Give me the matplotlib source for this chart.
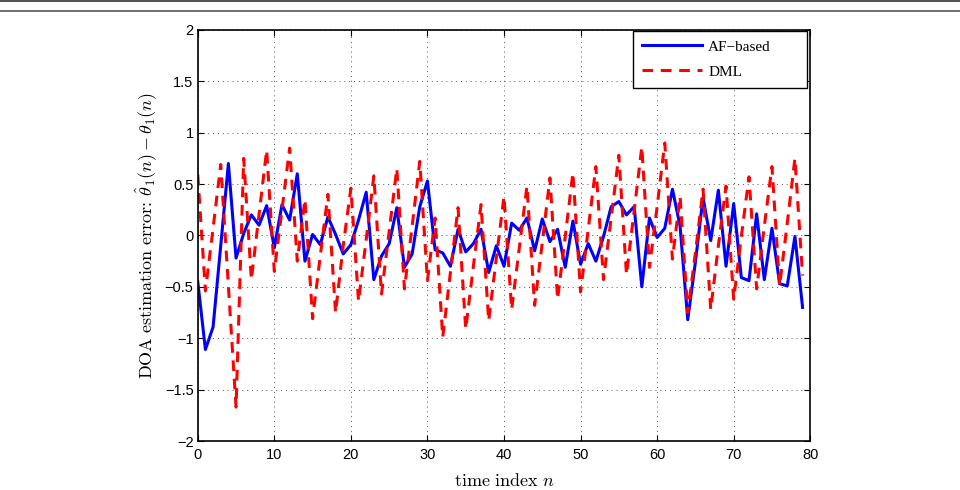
import numpy as np
import matplotlib
matplotlib.use('Agg')
import matplotlib.pyplot as plt
from matplotlib.lines import Line2D

plt.rcParams['mathtext.fontset'] = 'cm'

#time index
n = np.arange(0, 80)

#AF-based estimation error
af_err = [-0.45, -1.11, -0.89, -0.10, 0.70, -0.22, 0.02, 0.20, 0.10, 0.29,
          -0.12, 0.30, 0.15, 0.60, -0.25, 0.01, -0.09, 0.18, 0.01, -0.18,
          -0.09, 0.15, 0.42, -0.43, -0.20, -0.08, 0.27, -0.31, -0.18, 0.28,
          0.53, -0.14, -0.17, -0.30, 0.06, -0.16, -0.08, 0.06, -0.36, -0.10,
          -0.30, 0.12, 0.05, 0.17, -0.15, 0.16, -0.06, 0.06, -0.31, 0.14,
          -0.28, -0.08, -0.25, -0.01, 0.28, 0.33, 0.20, 0.28, -0.50, 0.17,
          -0.02, 0.07, 0.45, 0.09, -0.82, -0.26, 0.37, -0.05, 0.44, -0.30,
          0.31, -0.41, -0.44, 0.21, -0.43, 0.07, -0.47, -0.49, -0.01, -0.70]

#DML estimation error
dml_err = [0.59, -0.54, 0.07, 0.69, -0.49, -1.67, 0.75, -0.43, 0.20, 0.83,
           -0.35, 0.25, 0.85, -0.25, 0.35, -0.81, -0.20, 0.40, -0.75, -0.10,
           0.46, -0.64, -0.04, 0.58, -0.57, 0.04, 0.65, -0.52, 0.09, 0.72,
           -0.44, 0.17, -0.99, -0.36, 0.27, -0.91, -0.30, 0.30, -0.83, -0.22,
           0.38, -0.72, -0.12, 0.48, -0.68, -0.07, 0.56, -0.62, -0.01, 0.61,
           -0.55, 0.06, 0.67, -0.43, 0.17, 0.78, -0.38, 0.24, 0.86, -0.31,
           0.28, 0.90, -0.23, 0.38, -0.75, -0.17, 0.45, -0.72, -0.10, 0.48,
           -0.62, -0.01, 0.57, -0.52, 0.09, 0.67, -0.49, 0.12, 0.75, -0.39]

xticks = [0, 10, 20, 30, 40, 50, 60, 70, 80]
yticks = [-2, -1.5, -1, -0.5, 0, 0.5, 1, 1.5, 2]
ytick_labels = ['\u22122', '\u22121.5', '\u22121', '\u22120.5', '0', '0.5', '1', '1.5', '2']

fig = plt.figure(figsize=(9.6, 4.9), dpi=100)
ax = fig.add_axes([0.206, 0.1, 0.638, 0.839])

ax.plot(n, af_err, color='#0000ff', lw=2.2, label='AF\u2212based')
ax.plot(n, dml_err, color='#ff0000', lw=2.2, ls=(0, (3.5, 2.5)), label='DML')

ax.set_xlim(0, 80)
ax.set_ylim(-2, 2)
ax.set_xticks(xticks)
ax.set_yticks(yticks)
ax.set_yticklabels(ytick_labels)
ax.tick_params(direction='in', top=True, right=True, length=4, width=0.8,
               labelsize=10.5, pad=3)
ax.tick_params(axis='x', pad=5)
for lab in ax.get_xticklabels() + ax.get_yticklabels():
    lab.set_fontfamily('Liberation Sans')
ax.grid(True, color='#555555', ls=(0, (1, 4)), lw=0.7)
for s in ax.spines.values():
    s.set_linewidth(1.2)

ax.set_xlabel(r'$\mathrm{time\ index}\ n$', fontsize=13, labelpad=7)
ax.set_ylabel(r'$\mathrm{DOA\ estimation\ error}\!:\!\ \hat{\theta}_1(n)-\theta_1(n)$',
              fontsize=13, labelpad=4)

#matlab style legend box, wider than its content
leg = ax.legend(loc='upper left', bbox_to_anchor=(0.711, 0.859, 0.284, 0.139),
                mode='expand', fancybox=False, edgecolor='black',
                framealpha=1, borderaxespad=0, handlelength=3.9,
                handletextpad=0.4, borderpad=0.6,
                prop={'family': 'Liberation Serif', 'size': 11},
                labelspacing=0.75)
leg.get_frame().set_linewidth(1.0)

#page frame lines at the top
fig.add_artist(Line2D([0, 1], [0.997, 0.997], color='#333333', lw=1.2))
fig.add_artist(Line2D([0, 1], [0.978, 0.978], color='#555555', lw=1.2))

fig.savefig('out.png', dpi=100)
